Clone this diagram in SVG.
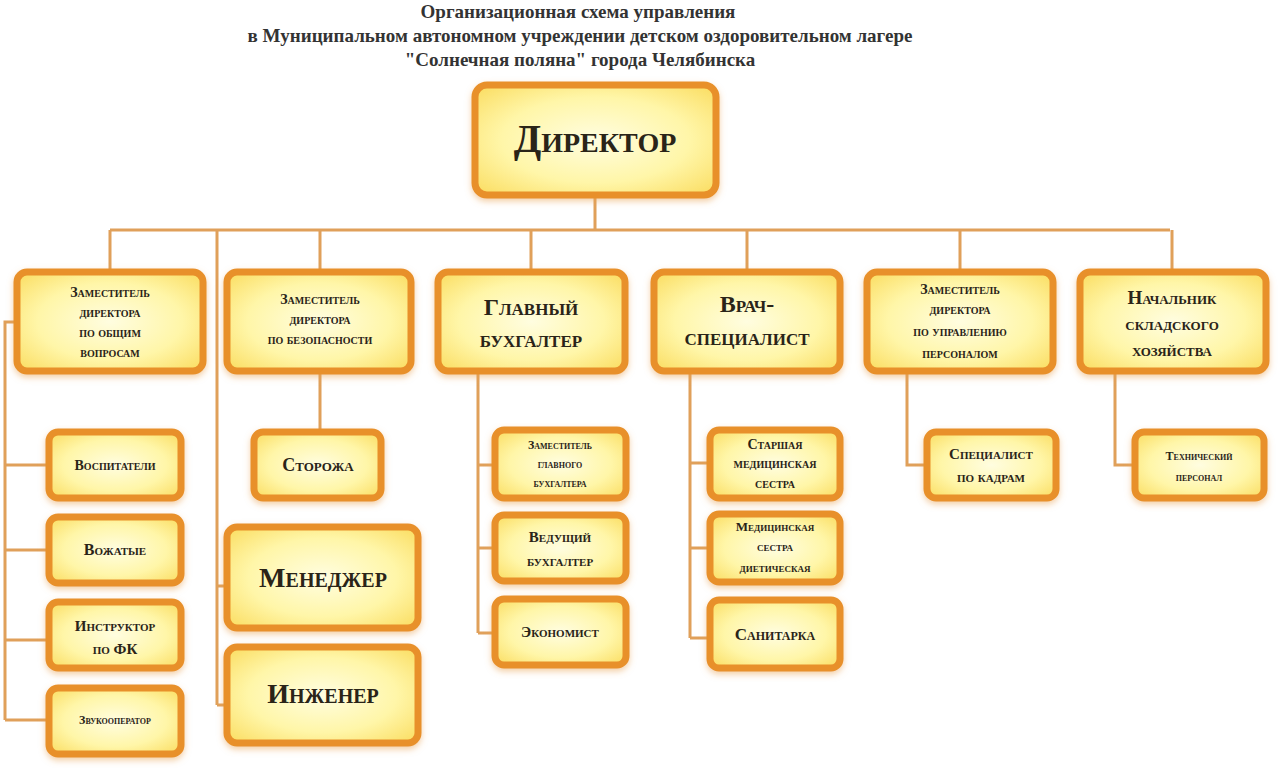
<svg xmlns="http://www.w3.org/2000/svg" width="1280" height="768" viewBox="0 0 1280 768">
<defs>
<radialGradient id="g" cx="50%" cy="50%" r="65%">
<stop offset="0" stop-color="#fffde0"/><stop offset="0.6" stop-color="#fff6a8"/><stop offset="1" stop-color="#fbe06a"/>
</radialGradient>
<filter id="sh" x="-10%" y="-10%" width="120%" height="130%"><feDropShadow dx="0" dy="3" stdDeviation="3" flood-color="#e8a050" flood-opacity="0.5"/></filter>
</defs>
<style>
.b{fill:url(#g);stroke:#e8902a;stroke-width:7;filter:url(#sh)}
.t{font-family:"Liberation Serif","DejaVu Serif",serif;font-weight:bold;font-variant:small-caps;fill:#2a2418;text-anchor:middle}
.h{font-family:"Liberation Serif",serif;font-weight:bold;font-size:19px;fill:#333;text-anchor:middle}
.l{stroke:#e0a05a;stroke-width:3;fill:none}
</style>
<rect width="1280" height="768" fill="#fff"/>
<text class="h" x="578" y="18">Организационная схема управления</text>
<text class="h" x="580" y="42">в Муниципальном автономном учреждении детском оздоровительном лагере</text>
<text class="h" x="580" y="66">"Солнечная поляна" города Челябинска</text>
<g id="connectors" class="l">
<path d="M595 197V230M110 230H1170M110 230V270M320 230V270M531 230V270M747 230V270M960 230V270M1172 230V270"/>
<path d="M15 322H5V720M5 465H47M5 550H47M5 640H47M5 720H47"/>
<path d="M217 230V705M217 586H225M217 705H225M320 373V430"/>
<path d="M478 373V633M478 465H493M478 548H493M478 633H493"/>
<path d="M690 373V638M690 463H708M690 548H708M690 638H708"/>
<path d="M907 373V465H925M1115 373V465H1133"/>
</g>
<g id="director"><rect class="b" x="475" y="85" width="241" height="110" rx="12"/><text class="t" x="595" y="152" font-size="40">Директор</text></g>
<g id="n1"><rect class="b" x="17" y="272" width="186" height="99" rx="10"/><text class="t" font-size="14"><tspan x="110" y="297">Заместитель</tspan><tspan x="110" y="317">директора</tspan><tspan x="110" y="337">по общим</tspan><tspan x="110" y="357">вопросам</tspan></text></g>
<g id="n2"><rect class="b" x="227" y="272" width="184" height="99" rx="10"/><text class="t" font-size="14"><tspan x="320" y="304">Заместитель</tspan><tspan x="320" y="324">директора</tspan><tspan x="320" y="344">по безопасности</tspan></text></g>
<g id="n3"><rect class="b" x="438" y="272" width="187" height="99" rx="10"/><text class="t" font-size="24"><tspan x="531" y="315">Главный</tspan><tspan x="531" y="347">бухгалтер</tspan></text></g>
<g id="n4"><rect class="b" x="654" y="272" width="186" height="99" rx="10"/><text class="t" font-size="24"><tspan x="747" y="312">Врач-</tspan><tspan x="747" y="345">специалист</tspan></text></g>
<g id="n5"><rect class="b" x="867" y="272" width="186" height="99" rx="10"/><text class="t" font-size="14"><tspan x="960" y="294">Заместитель</tspan><tspan x="960" y="314">директора</tspan><tspan x="960" y="336">по управлению</tspan><tspan x="960" y="358">персоналом</tspan></text></g>
<g id="n6"><rect class="b" x="1080" y="272" width="186" height="99" rx="10"/><text class="t" font-size="19"><tspan x="1172" y="304">Начальник</tspan><tspan x="1172" y="330">складского</tspan><tspan x="1172" y="356">хозяйства</tspan></text></g>
<g id="c1a"><rect class="b" x="49" y="432" width="132" height="66" rx="9"/><text class="t" x="115" y="470" font-size="14">Воспитатели</text></g>
<g id="c1b"><rect class="b" x="49" y="517" width="132" height="66" rx="9"/><text class="t" x="115" y="555" font-size="16">Вожатые</text></g>
<g id="c1c"><rect class="b" x="49" y="602" width="132" height="66" rx="9"/><text class="t" font-size="15"><tspan x="115" y="631">Инструктор</tspan><tspan x="115" y="654">по ФК</tspan></text></g>
<g id="c1d"><rect class="b" x="49" y="688" width="132" height="66" rx="9"/><text class="t" x="115" y="724" font-size="12">Звукооператор</text></g>
<g id="c2a"><rect class="b" x="254" y="432" width="127" height="66" rx="9"/><text class="t" x="318" y="471" font-size="18">Сторожа</text></g>
<g id="c2b"><rect class="b" x="227" y="527" width="191" height="101" rx="10"/><text class="t" x="323" y="587" font-size="28">Менеджер</text></g>
<g id="c2c"><rect class="b" x="227" y="647" width="191" height="96" rx="10"/><text class="t" x="323" y="703" font-size="28">Инженер</text></g>
<g id="c3a"><rect class="b" x="495" y="430" width="131" height="68" rx="9"/><text class="t" font-size="12"><tspan x="560" y="449">Заместитель</tspan><tspan x="560" y="468">главного</tspan><tspan x="560" y="487">бухгалтера</tspan></text></g>
<g id="c3b"><rect class="b" x="495" y="515" width="131" height="66" rx="9"/><text class="t" font-size="15"><tspan x="560" y="542">Ведущий</tspan><tspan x="560" y="566">бухгалтер</tspan></text></g>
<g id="c3c"><rect class="b" x="495" y="599" width="131" height="66" rx="9"/><text class="t" x="560" y="637" font-size="15">Экономист</text></g>
<g id="c4a"><rect class="b" x="710" y="430" width="130" height="68" rx="9"/><text class="t" font-size="14"><tspan x="775" y="449">Старшая</tspan><tspan x="775" y="468">медицинская</tspan><tspan x="775" y="488">сестра</tspan></text></g>
<g id="c4b"><rect class="b" x="710" y="514" width="130" height="68" rx="9"/><text class="t" font-size="13"><tspan x="775" y="531">Медицинская</tspan><tspan x="775" y="551">сестра</tspan><tspan x="775" y="572">диетическая</tspan></text></g>
<g id="c4c"><rect class="b" x="710" y="600" width="130" height="68" rx="9"/><text class="t" x="775" y="640" font-size="17">Санитарка</text></g>
<g id="c5"><rect class="b" x="927" y="432" width="129" height="66" rx="9"/><text class="t" font-size="15"><tspan x="991" y="459">Специалист</tspan><tspan x="991" y="482">по кадрам</tspan></text></g>
<g id="c6"><rect class="b" x="1135" y="432" width="129" height="66" rx="9"/><text class="t" font-size="12"><tspan x="1199" y="460">Технический</tspan><tspan x="1199" y="481">персонал</tspan></text></g>
</svg>
